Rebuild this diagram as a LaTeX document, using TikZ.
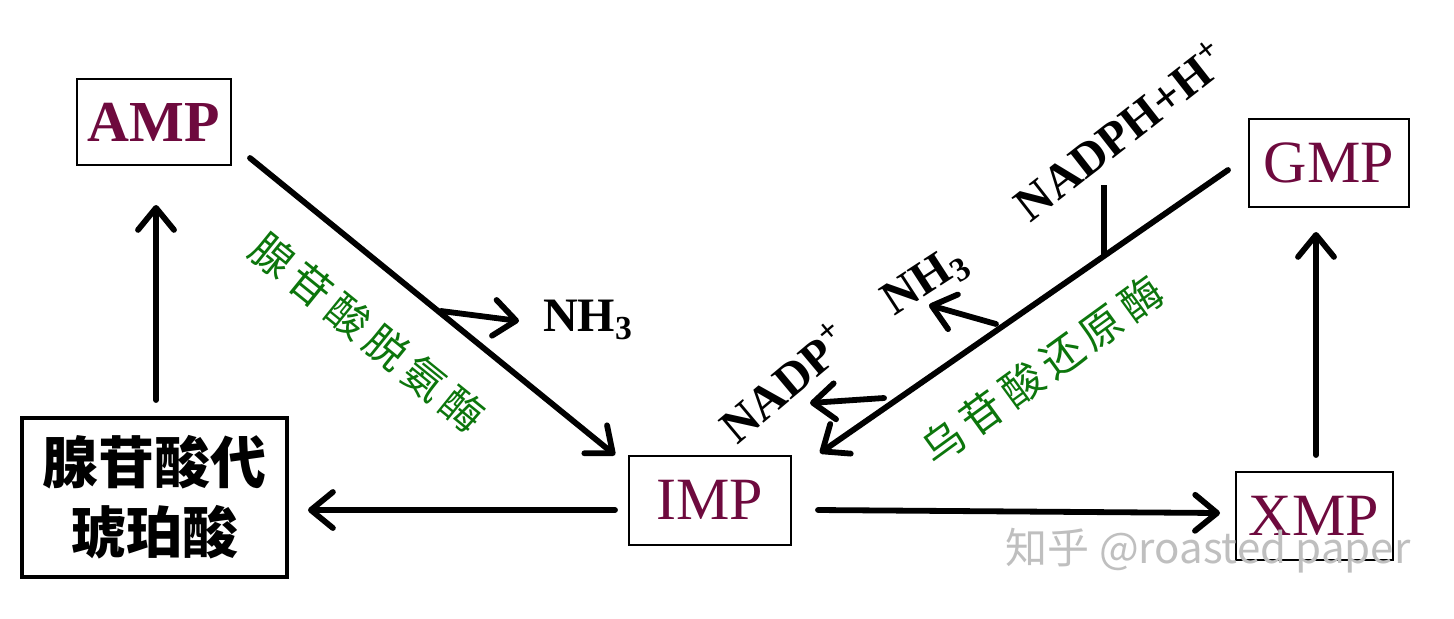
\documentclass[tikz,border=0pt]{standalone}
\usepackage{fontspec}
\setmainfont{Liberation Serif}
\newfontfamily\cjk{Noto Sans CJK SC}
\usetikzlibrary{arrows.meta}
\definecolor{molred}{RGB}{110,10,62}
\definecolor{enz}{RGB}{12,118,12}
\tikzset{
  box/.style={draw, line width=1pt, inner sep=0pt},
  mol/.style={box, text=molred, font=\fontsize{30}{30}\selectfont},
  flow/.style={line width=2.9pt, line cap=round,
    -{Straight Barb[length=11pt,width=18pt,line width=2.9pt,round]}},
  plain/.style={line width=2.9pt},
  side/.style={font=\bfseries\fontsize{24}{24}\selectfont},
  enzyme/.style={text=enz, font=\cjk\fontsize{21}{21}\selectfont},
}
\newcommand{\gsp}{\hspace{3.5pt}}
\begin{document}
\begin{tikzpicture}[x=0.5pt,y=-0.5pt]
\useasboundingbox (0,0) rectangle (1454,618);
\fill[white] (0,0) rectangle (1454,618);

% boxes
\node[mol, font=\bfseries\fontsize{29}{29}\selectfont, minimum width=77pt, minimum height=43pt] (AMP) at (154,122) {AMP};
\node[mol, minimum width=80pt, minimum height=44pt] (GMP) at (1329,163) {GMP};
\node[mol, minimum width=81pt, minimum height=44.5pt] (IMP) at (710,500) {IMP};
\node[mol, minimum width=78.5pt, minimum height=44pt] (XMP) at (1314,516) {XMP};
\node[box, line width=2pt, minimum width=132.5pt, minimum height=79.5pt,
      align=center, font=\cjk\bfseries\fontsize{28}{35}\selectfont] (ADS) at (154,497)
      {腺苷酸代\\琥珀酸};

% connector end points
\coordinate (a1) at (250,158);
\coordinate (a2) at (615,455);
\coordinate (g1) at (1228,170);
\coordinate (g2) at (820,453);
\coordinate (i1) at (615,510);
\coordinate (s1) at (308,510);
\coordinate (i2) at (818,510);
\coordinate (x1) at (1220,513);
\coordinate (d1) at (156,400);
\coordinate (d2) at (156,205);
\coordinate (x2) at (1316,455);
\coordinate (x3) at (1316,232);

% main arrows
\draw[flow] (a1) -- (a2);
\draw[flow] (g1) -- (g2);
\draw[flow] (i1) -- (s1);
\draw[flow] (i2) -- (x1);
\draw[flow] (d1) -- (d2);
\draw[flow] (x2) -- (x3);

% AMP deaminase branch
\coordinate (b1) at (441,311);
\coordinate (b2) at (519,321);
\draw[flow] (b1) -- (b2);
\node[side, anchor=west] (nh3a) at (536,320) {NH\textsubscript{3}};
\node[enzyme, rotate=-39] (ampd) at (368,332) {腺\gsp 苷\gsp 酸\gsp 脱\gsp 氨\gsp 酶};

% GMP reductase branches
\coordinate (n1) at (1104,185);
\coordinate (n2) at (1104,256);
\draw[plain] (n1) -- (n2);
\node[side, rotate=38] (nadph) at (1120,130) {NADPH+H\textsuperscript{+}};

\coordinate (h1) at (996,324);
\coordinate (h2) at (929,305);
\draw[flow] (h1) -- (h2);
\node[side, rotate=33] (nh3b) at (926,282) {NH\textsubscript{3}};

\coordinate (p1) at (884,398);
\coordinate (p2) at (810,403);
\draw[flow] (p1) -- (p2);
\node[side, rotate=40] (nadp) at (784,382) {NADP\textsuperscript{+}};

\node[enzyme, rotate=36] (gmpr) at (1042,370) {乌\gsp 苷\gsp 酸\gsp 还\gsp 原\gsp 酶};

% watermark
\node[text=gray!50, font=\cjk\fontsize{21}{21}\selectfont] (wm) at (1208,551) {知乎 @roasted paper};
\end{tikzpicture}
\end{document}
